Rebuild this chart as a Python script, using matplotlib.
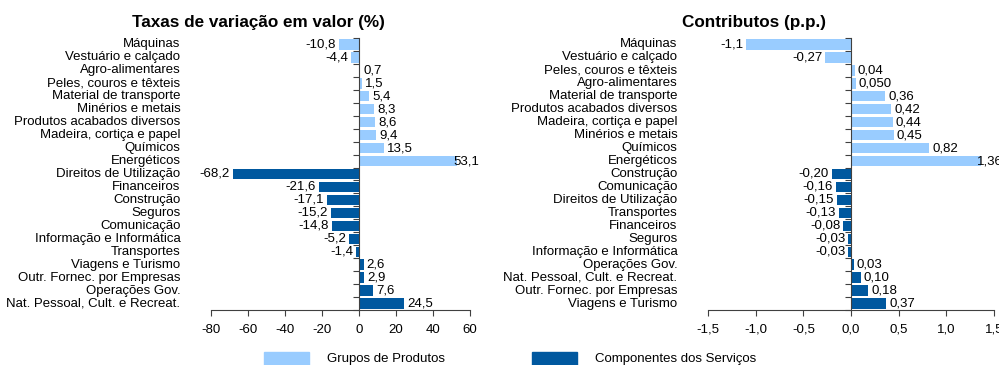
import matplotlib
matplotlib.use("Agg")
import matplotlib.pyplot as plt
from matplotlib.patches import Rectangle
from matplotlib.ticker import FixedLocator, FuncFormatter
import matplotlib.transforms as mtransforms

plt.rcParams['font.family'] = ['Liberation Sans', 'DejaVu Sans']

LIGHT = '#99CCFF'
DARK = '#00589F'

# Taxas de variação em valor (%)
rate_cats = ["Máquinas", "Vestuário e calçado", "Agro-alimentares",
             "Peles, couros e têxteis", "Material de transporte",
             "Minérios e metais", "Produtos acabados diversos",
             "Madeira, cortiça e papel", "Químicos", "Energéticos",
             "Direitos de Utilização", "Financeiros", "Construção", "Seguros",
             "Comunicação", "Informação e Informática", "Transportes",
             "Viagens e Turismo", "Outr. Fornec. por Empresas",
             "Operações Gov.", "Nat. Pessoal, Cult. e Recreat."]
rate_vals = [-10.8, -4.4, 0.7, 1.5, 5.4, 8.3, 8.6, 9.4, 13.5, 53.1,
             -68.2, -21.6, -17.1, -15.2, -14.8, -5.2, -1.4, 2.6, 2.9, 7.6, 24.5]
rate_dec = [1] * 21
rate_group = ["P"] * 10 + ["S"] * 11

# Contributos (p.p.)
contrib_cats = ["Máquinas", "Vestuário e calçado", "Peles, couros e têxteis",
                "Agro-alimentares", "Material de transporte",
                "Produtos acabados diversos", "Madeira, cortiça e papel",
                "Minérios e metais", "Químicos", "Energéticos",
                "Construção", "Comunicação", "Direitos de Utilização",
                "Transportes", "Financeiros", "Seguros",
                "Informação e Informática", "Operações Gov.",
                "Nat. Pessoal, Cult. e Recreat.", "Outr. Fornec. por Empresas",
                "Viagens e Turismo"]
contrib_vals = [-1.1, -0.27, 0.04, 0.050, 0.36, 0.42, 0.44, 0.45, 0.82, 1.36,
                -0.20, -0.16, -0.15, -0.13, -0.08, -0.03, -0.03, 0.03, 0.10,
                0.18, 0.37]
contrib_dec = [1, 2, 2, 3, 2, 2, 2, 2, 2, 2, 2, 2, 2, 2, 2, 2, 2, 2, 2, 2, 2]
contrib_group = ["P"] * 10 + ["S"] * 11

rate_ticks = [-80, -60, -40, -20, 0, 20, 40, 60]
contrib_ticks = [-1.5, -1.0, -0.5, 0.0, 0.5, 1.0, 1.5]

legend_labels = ["Grupos de Produtos", "Componentes dos Serviços"]

W, H = 999, 365
FS = 9.5
fig = plt.figure(figsize=(W / 100, H / 100), dpi=100)


def fmt(v, d):
    return f"{v:.{d}f}".replace('.', ',')


def panel(rect, cats, vals, decs, groups, ticks, xlim, tick_dec, title, title_x):
    ax = fig.add_axes(rect)
    n = len(cats)
    ys = list(range(n))
    colors = [LIGHT if g == "P" else DARK for g in groups]
    ax.barh(ys, vals, height=0.8, color=colors, zorder=2)
    ax.set_ylim(n - 0.5, -0.5)
    ax.set_xlim(*xlim)

    for s in ['top', 'right']:
        ax.spines[s].set_visible(False)
    ax.spines['left'].set_position(('data', 0))
    ax.spines['left'].set_color('#404040')
    ax.spines['left'].set_zorder(3)
    ax.spines['bottom'].set_color('#404040')

    ax.yaxis.set_major_locator(FixedLocator([]))
    ax.yaxis.set_minor_locator(FixedLocator([i + 0.5 for i in range(-1, n)]))
    ax.tick_params(axis='y', which='minor', length=4, width=0.8,
                   color='#404040', direction='out')

    ax.set_xticks(ticks)
    ax.xaxis.set_major_formatter(FuncFormatter(
        lambda v, p: fmt(v, tick_dec)))
    ax.tick_params(axis='x', length=4, width=0.8, color='#404040',
                   labelsize=9.5, pad=6)
    for lab in ax.get_xticklabels():
        lab.set_fontfamily(['Liberation Sans Narrow', 'Liberation Sans'])

    trans = mtransforms.blended_transform_factory(ax.transAxes, ax.transData)
    for y, c in zip(ys, cats):
        ax.text(-0.118 * 259 / (rect[2] * W), y, c, transform=trans,
                ha='right', va='center', fontsize=FS)

    off = mtransforms.offset_copy
    for y, v, d in zip(ys, vals, decs):
        if v >= 0:
            # labels of bars reaching the right edge tuck back over the bar end
            dx = -4 if v > 0.85 * xlim[1] else 3
            t = off(ax.transData, fig=fig, x=dx, y=0, units='dots')
            ax.text(v, y, fmt(v, d), transform=t, ha='left', va='center',
                    fontsize=FS, clip_on=False, zorder=4)
        else:
            t = off(ax.transData, fig=fig, x=-3, y=0, units='dots')
            ax.text(v, y, fmt(v, d), transform=t, ha='right', va='center',
                    fontsize=FS, clip_on=False)

    fig.text(title_x, 1 - 23 / H, title, ha='center', va='center',
             fontsize=12.3, fontweight='bold')
    return ax


panel([211 / W, 1 - 310 / H, 259 / W, 272 / H], rate_cats, rate_vals,
      rate_dec, rate_group, rate_ticks, (-80, 60), 0,
      "Taxas de variação em valor (%)", 258 / W)
panel([708 / W, 1 - 310 / H, 286 / W, 272 / H], contrib_cats, contrib_vals,
      contrib_dec, contrib_group, contrib_ticks, (-1.5, 1.5), 1,
      "Contributos (p.p.)", 754 / W)

# legend along the bottom edge
for (x0, tx), col, lab in zip([(264, 327), (532, 595)], [LIGHT, DARK],
                              legend_labels):
    fig.add_artist(Rectangle((x0 / W, 0), 45 / W, 13 / H, color=col,
                             transform=fig.transFigure))
    fig.text(tx / W, 6 / H, lab, ha='left', va='center', fontsize=FS)

fig.savefig("out.png", dpi=100)
